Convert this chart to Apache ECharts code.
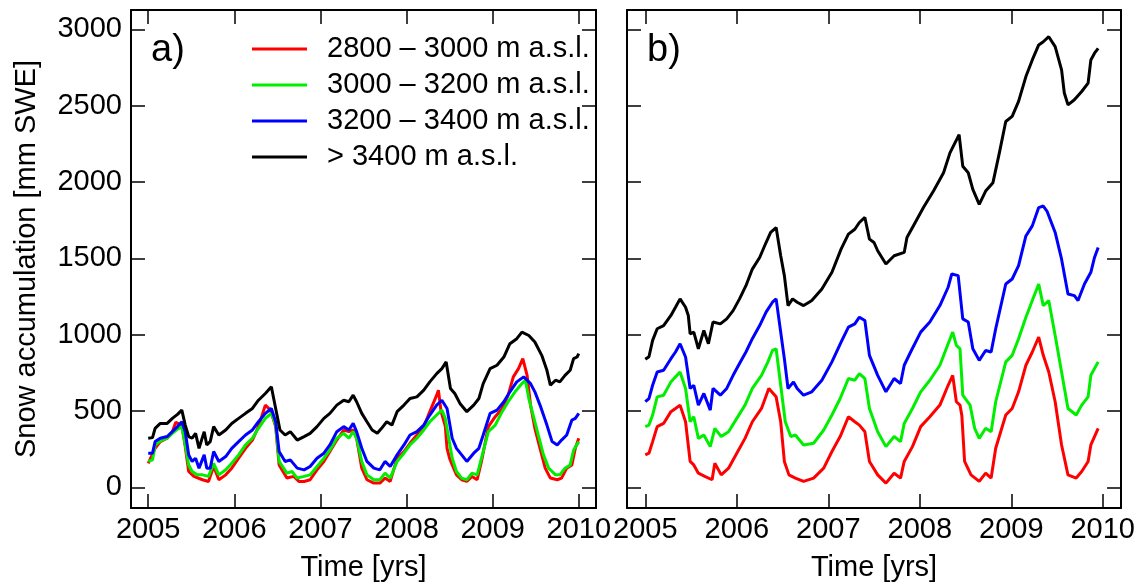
<!DOCTYPE html>
<html>
<head>
<meta charset="utf-8">
<script src="https://cdn.jsdelivr.net/npm/echarts@6/dist/echarts.min.js"></script>
<style>
	*{
		margin:0px;
		padding:0px;
	}
	#main{
		width: 1138px;
		height: 587px;
		background: #fff;
	}
</style>
</head>
<body>
<div id="main"></div>
<script type="text/javascript">
// tick labels
var years = [2005, 2006, 2007, 2008, 2009, 2010];
var yTicks = [0, 500, 1000, 1500, 2000, 2500, 3000];
var bandNames = ['2800 \u2013 3000 m a.s.l.', '3000 \u2013 3200 m a.s.l.', '3200 \u2013 3400 m a.s.l.', '> 3400 m a.s.l.'];
var bandColors = ['#ff0000', '#00ee00', '#0000ff', '#000000'];

// panel a) [year, mm SWE]
var aRed = [[2005.00,158],[2005.08,256],[2005.14,300],[2005.22,322],[2005.28,365],[2005.32,426],[2005.39,408],[2005.43,267],[2005.47,104],[2005.53,72],[2005.63,50],[2005.70,39],[2005.76,137],[2005.82,50],[2005.90,82],[2005.97,126],[2006.05,191],[2006.13,256],[2006.21,310],[2006.28,398],[2006.36,539],[2006.42,506],[2006.48,398],[2006.52,147],[2006.61,61],[2006.69,72],[2006.75,39],[2006.81,39],[2006.88,50],[2006.96,115],[2007.04,170],[2007.11,235],[2007.19,310],[2007.27,376],[2007.33,365],[2007.38,376],[2007.42,322],[2007.48,126],[2007.54,50],[2007.62,28],[2007.69,28],[2007.75,61],[2007.81,39],[2007.89,190],[2007.97,235],[2008.04,289],[2008.12,343],[2008.20,398],[2008.27,496],[2008.35,604],[2008.37,637],[2008.40,500],[2008.45,400],[2008.47,256],[2008.50,190],[2008.53,147],[2008.58,82],[2008.64,50],[2008.70,39],[2008.76,72],[2008.82,50],[2008.87,170],[2008.95,398],[2009.03,463],[2009.11,517],[2009.18,604],[2009.24,724],[2009.30,778],[2009.35,843],[2009.40,734],[2009.44,539],[2009.49,387],[2009.55,256],[2009.61,126],[2009.67,61],[2009.75,50],[2009.80,61],[2009.86,126],[2009.92,147],[2009.96,256],[2010.00,322]];
var aGreen = [[2005.00,170],[2005.05,180],[2005.08,278],[2005.14,304],[2005.22,322],[2005.28,354],[2005.34,382],[2005.39,398],[2005.43,278],[2005.47,147],[2005.51,104],[2005.57,82],[2005.63,82],[2005.70,72],[2005.76,158],[2005.82,82],[2005.90,115],[2005.97,158],[2006.05,213],[2006.13,278],[2006.21,322],[2006.28,387],[2006.36,452],[2006.43,485],[2006.48,408],[2006.52,170],[2006.61,93],[2006.67,104],[2006.73,61],[2006.81,72],[2006.88,82],[2006.96,137],[2007.04,191],[2007.11,245],[2007.19,322],[2007.27,354],[2007.33,322],[2007.38,365],[2007.42,322],[2007.48,170],[2007.54,82],[2007.62,50],[2007.69,50],[2007.75,93],[2007.81,61],[2007.89,170],[2007.97,224],[2008.04,278],[2008.12,322],[2008.20,376],[2008.27,430],[2008.35,474],[2008.41,506],[2008.45,452],[2008.49,322],[2008.53,191],[2008.58,104],[2008.64,61],[2008.70,50],[2008.76,93],[2008.82,82],[2008.87,191],[2008.95,365],[2009.03,408],[2009.11,496],[2009.18,561],[2009.26,626],[2009.34,680],[2009.38,702],[2009.42,582],[2009.47,474],[2009.53,343],[2009.59,213],[2009.65,126],[2009.73,82],[2009.78,82],[2009.84,126],[2009.90,147],[2009.94,245],[2010.00,300]];
var aBlue = [[2005.00,224],[2005.05,224],[2005.08,300],[2005.14,322],[2005.22,333],[2005.28,365],[2005.34,398],[2005.39,430],[2005.43,365],[2005.47,213],[2005.51,170],[2005.55,191],[2005.59,126],[2005.65,213],[2005.68,126],[2005.72,126],[2005.76,235],[2005.82,170],[2005.90,202],[2005.97,256],[2006.05,300],[2006.13,343],[2006.21,376],[2006.28,430],[2006.36,485],[2006.43,517],[2006.48,430],[2006.52,235],[2006.59,170],[2006.65,180],[2006.73,126],[2006.81,115],[2006.88,137],[2006.96,191],[2007.04,224],[2007.11,278],[2007.19,365],[2007.27,398],[2007.33,376],[2007.38,419],[2007.42,365],[2007.48,256],[2007.54,170],[2007.62,126],[2007.69,115],[2007.75,170],[2007.81,137],[2007.89,213],[2007.97,278],[2008.04,343],[2008.12,365],[2008.20,408],[2008.27,474],[2008.35,539],[2008.41,571],[2008.47,517],[2008.50,420],[2008.53,322],[2008.58,256],[2008.64,213],[2008.70,170],[2008.78,224],[2008.84,256],[2008.89,343],[2008.97,485],[2009.05,506],[2009.13,561],[2009.20,626],[2009.28,691],[2009.36,724],[2009.44,680],[2009.49,626],[2009.55,539],[2009.63,408],[2009.69,300],[2009.75,278],[2009.80,310],[2009.86,343],[2009.92,441],[2009.96,452],[2010.00,485]];
var aBlack = [[2005.00,322],[2005.05,326],[2005.08,387],[2005.14,419],[2005.22,419],[2005.28,452],[2005.34,478],[2005.39,506],[2005.43,408],[2005.47,333],[2005.51,322],[2005.55,354],[2005.59,256],[2005.65,365],[2005.68,278],[2005.72,300],[2005.76,398],[2005.82,343],[2005.90,376],[2005.97,419],[2006.05,452],[2006.13,485],[2006.21,517],[2006.28,571],[2006.36,615],[2006.43,659],[2006.48,517],[2006.53,376],[2006.59,343],[2006.65,365],[2006.73,310],[2006.81,333],[2006.88,354],[2006.96,398],[2007.04,452],[2007.11,485],[2007.19,539],[2007.27,571],[2007.33,561],[2007.38,604],[2007.42,561],[2007.48,485],[2007.54,430],[2007.60,376],[2007.66,354],[2007.71,387],[2007.77,430],[2007.83,408],[2007.89,496],[2007.97,539],[2008.04,582],[2008.12,593],[2008.20,637],[2008.27,691],[2008.35,745],[2008.41,778],[2008.46,822],[2008.51,648],[2008.56,615],[2008.62,550],[2008.70,496],[2008.78,539],[2008.84,582],[2008.89,680],[2008.97,778],[2009.05,800],[2009.13,854],[2009.20,941],[2009.28,974],[2009.34,1017],[2009.42,995],[2009.49,952],[2009.57,865],[2009.63,767],[2009.67,669],[2009.73,702],[2009.78,691],[2009.84,734],[2009.90,767],[2009.94,843],[2009.98,854],[2010.00,876]];

// panel b) [year, mm SWE]
var bRed = [[2005.00,213],[2005.04,224],[2005.08,300],[2005.13,398],[2005.20,419],[2005.28,496],[2005.33,517],[2005.38,539],[2005.44,430],[2005.49,170],[2005.53,147],[2005.58,93],[2005.65,72],[2005.73,50],[2005.76,158],[2005.83,82],[2005.91,126],[2006.00,224],[2006.09,321],[2006.17,430],[2006.27,517],[2006.35,648],[2006.43,593],[2006.48,430],[2006.52,170],[2006.57,82],[2006.64,61],[2006.73,39],[2006.84,61],[2006.95,126],[2007.04,235],[2007.13,333],[2007.22,463],[2007.29,430],[2007.34,408],[2007.40,365],[2007.45,170],[2007.54,82],[2007.63,28],[2007.72,93],[2007.79,61],[2007.83,170],[2007.92,267],[2008.01,398],[2008.11,463],[2008.22,539],[2008.31,669],[2008.36,734],[2008.40,561],[2008.44,539],[2008.46,470],[2008.49,170],[2008.56,82],[2008.65,39],[2008.72,93],[2008.78,61],[2008.83,256],[2008.94,474],[2009.01,517],[2009.08,626],[2009.16,800],[2009.23,887],[2009.30,985],[2009.35,865],[2009.41,756],[2009.48,561],[2009.55,278],[2009.62,82],[2009.71,61],[2009.77,104],[2009.84,170],[2009.87,278],[2009.95,387]];
var bGreen = [[2005.00,398],[2005.04,408],[2005.08,474],[2005.13,593],[2005.20,604],[2005.28,691],[2005.33,724],[2005.38,756],[2005.44,648],[2005.49,430],[2005.53,463],[2005.58,321],[2005.64,343],[2005.71,267],[2005.76,387],[2005.83,333],[2005.91,365],[2006.00,452],[2006.09,539],[2006.17,648],[2006.27,734],[2006.34,822],[2006.39,897],[2006.43,908],[2006.48,669],[2006.53,430],[2006.59,333],[2006.64,343],[2006.73,278],[2006.84,289],[2006.95,376],[2007.04,474],[2007.13,582],[2007.22,713],[2007.29,702],[2007.34,745],[2007.40,713],[2007.45,517],[2007.54,365],[2007.63,267],[2007.72,333],[2007.79,300],[2007.83,419],[2007.92,517],[2008.01,626],[2008.11,702],[2008.22,800],[2008.31,941],[2008.36,1017],[2008.40,930],[2008.44,908],[2008.47,604],[2008.55,539],[2008.60,387],[2008.65,321],[2008.72,387],[2008.78,365],[2008.83,561],[2008.94,822],[2009.01,865],[2009.08,974],[2009.16,1115],[2009.23,1224],[2009.30,1332],[2009.35,1191],[2009.41,1224],[2009.48,995],[2009.55,756],[2009.62,517],[2009.71,474],[2009.77,539],[2009.84,593],[2009.87,734],[2009.95,822]];
var bBlue = [[2005.00,561],[2005.04,582],[2005.08,669],[2005.13,756],[2005.20,767],[2005.28,843],[2005.33,887],[2005.38,941],[2005.44,854],[2005.49,648],[2005.53,669],[2005.58,539],[2005.64,615],[2005.71,506],[2005.74,648],[2005.82,604],[2005.89,648],[2005.96,734],[2006.03,811],[2006.10,887],[2006.17,974],[2006.25,1060],[2006.32,1148],[2006.39,1213],[2006.43,1235],[2006.48,1017],[2006.52,843],[2006.56,648],[2006.62,691],[2006.66,648],[2006.73,604],[2006.82,626],[2006.93,702],[2007.04,822],[2007.14,952],[2007.22,1050],[2007.29,1071],[2007.34,1115],[2007.40,1093],[2007.45,865],[2007.54,734],[2007.63,626],[2007.72,713],[2007.79,680],[2007.83,800],[2007.90,887],[2008.01,1017],[2008.11,1083],[2008.22,1191],[2008.31,1311],[2008.35,1398],[2008.42,1387],[2008.47,1104],[2008.53,1083],[2008.58,908],[2008.65,832],[2008.72,897],[2008.78,887],[2008.83,1039],[2008.94,1332],[2009.01,1365],[2009.08,1452],[2009.16,1647],[2009.23,1713],[2009.30,1833],[2009.35,1843],[2009.39,1810],[2009.48,1670],[2009.55,1495],[2009.62,1267],[2009.69,1256],[2009.73,1224],[2009.80,1332],[2009.87,1409],[2009.91,1506],[2009.95,1572]];
var bBlack = [[2005.00,839],[2005.04,856],[2005.08,963],[2005.13,1039],[2005.20,1060],[2005.28,1126],[2005.33,1180],[2005.38,1235],[2005.44,1180],[2005.47,1126],[2005.49,1006],[2005.53,1017],[2005.58,908],[2005.64,1028],[2005.69,941],[2005.74,1083],[2005.82,1071],[2005.89,1104],[2005.96,1158],[2006.03,1235],[2006.10,1321],[2006.17,1430],[2006.25,1506],[2006.32,1604],[2006.37,1670],[2006.43,1702],[2006.48,1517],[2006.52,1387],[2006.56,1191],[2006.61,1235],[2006.66,1213],[2006.73,1191],[2006.79,1213],[2006.82,1224],[2006.93,1300],[2007.04,1409],[2007.14,1561],[2007.22,1659],[2007.29,1691],[2007.34,1735],[2007.40,1768],[2007.45,1626],[2007.50,1604],[2007.54,1550],[2007.63,1463],[2007.72,1517],[2007.83,1539],[2007.86,1637],[2007.94,1724],[2008.04,1833],[2008.15,1941],[2008.26,2061],[2008.33,2191],[2008.43,2311],[2008.47,2104],[2008.53,2061],[2008.58,1952],[2008.65,1854],[2008.72,1941],[2008.80,1996],[2008.87,2191],[2008.94,2397],[2009.01,2430],[2009.08,2528],[2009.16,2691],[2009.23,2800],[2009.30,2898],[2009.35,2919],[2009.41,2952],[2009.48,2887],[2009.55,2735],[2009.58,2583],[2009.62,2506],[2009.69,2539],[2009.77,2593],[2009.84,2648],[2009.87,2800],[2009.91,2844],[2009.95,2876]];

var panelA = [aRed, aGreen, aBlue, aBlack];
var panelB = [bRed, bGreen, bBlue, bBlack];

var font = 'Liberation Sans, Arial, sans-serif';
var fs = 29;
var txt = {color: '#000', fontFamily: font, fontSize: fs};
var frame = {show: true, onZero: false, lineStyle: {color: '#000', width: 2}};
var tickIn = {show: true, inside: true, length: 14, lineStyle: {color: '#000', width: 1.5}};
function plain(v){ return String(v); }

function xAx(grid, pos, labels){
	return {
		gridIndex: grid, type: 'value', position: pos, min: 2004.8, max: 2010.2,
		axisLine: frame,
		axisTick: Object.assign({customValues: years}, tickIn),
		axisLabel: {show: labels, customValues: years, formatter: plain, margin: 7, color: '#000', fontFamily: font, fontSize: fs},
		splitLine: {show: false},
		name: labels ? 'Time [yrs]' : '', nameLocation: 'middle', nameGap: 45,
		nameTextStyle: txt
	};
}
function yAx(grid, pos, labels, name){
	return {
		gridIndex: grid, type: 'value', position: pos, min: -135, max: 3127,
		axisLine: frame,
		axisTick: Object.assign({customValues: yTicks}, tickIn),
		axisLabel: {show: labels, customValues: yTicks, formatter: plain, margin: 9, color: '#000', fontFamily: font, fontSize: fs},
		splitLine: {show: false},
		name: name || '', nameLocation: 'middle', nameGap: 90,
		nameTextStyle: txt
	};
}

var series = [];
[panelA, panelB].forEach(function (panel, p) {
	panel.forEach(function (d, i) {
		series.push({
			type: 'line', name: bandNames[i], data: d,
			xAxisIndex: p * 2, yAxisIndex: p * 2,
			symbol: 'none', lineStyle: {width: 3, color: bandColors[i]},
			itemStyle: {color: bandColors[i]}, z: 2 + i
		});
	});
});

var myChart = echarts.init(document.getElementById('main'));
myChart.setOption({
	animation: false,
	backgroundColor: '#fff',
	grid: [
		{left: 131, top: 10, width: 465, height: 500},
		{left: 627, top: 10, width: 501, height: 500}
	],
	xAxis: [xAx(0, 'bottom', true), xAx(0, 'top', false), xAx(1, 'bottom', true), xAx(1, 'top', false)],
	yAxis: [yAx(0, 'left', true, 'Snow accumulation [mm SWE]'), yAx(0, 'right', false), yAx(1, 'left', false), yAx(1, 'right', false)],
	legend: {
		data: bandNames, orient: 'vertical', left: 247, top: 26,
		icon: 'rect', itemWidth: 55, itemHeight: 3, itemGap: 0,
		textStyle: {color: '#000', fontFamily: font, fontSize: fs, lineHeight: 36, padding: [0, 0, 0, 15]}
	},
	graphic: [
		{type: 'text', left: 151, top: 32, style: {text: 'a)', fontSize: 38, fontFamily: font, fill: '#000'}},
		{type: 'text', left: 647, top: 32, style: {text: 'b)', fontSize: 38, fontFamily: font, fill: '#000'}}
	],
	series: series
});
</script>
</body>
</html>
